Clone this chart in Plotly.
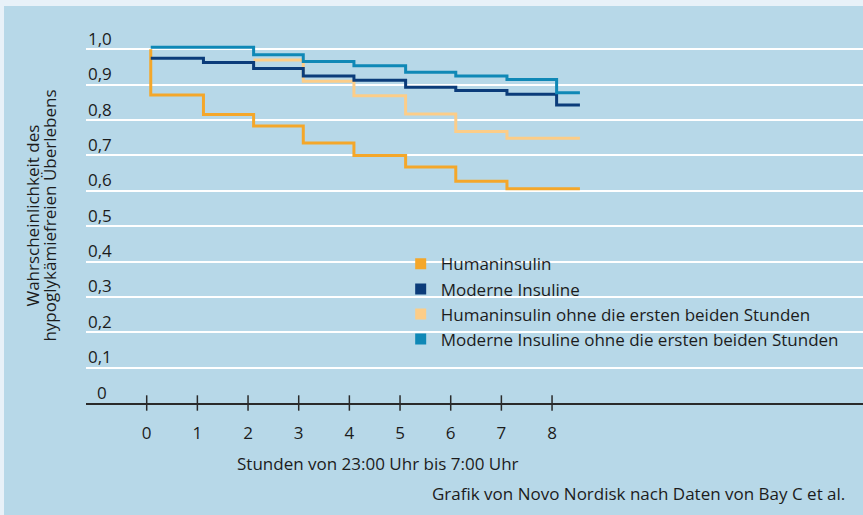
import plotly.graph_objects as go

# ---------------- data ----------------
x_ticks = [0, 1, 2, 3, 4, 5, 6, 7, 8]
x_tick_labels = ["0", "1", "2", "3", "4", "5", "6", "7", "8"]
y_ticks = [0.1, 0.2, 0.3, 0.4, 0.5, 0.6, 0.7, 0.8, 0.9, 1.0]
y_tick_labels = ["0,1", "0,2", "0,3", "0,4", "0,5", "0,6", "0,7", "0,8", "0,9", "1,0"]

human_t = [0.08, 0.08, 1.12, 2.11, 3.09, 4.09, 5.11, 6.10, 7.11, 8.55]
human_s = [1.0, 0.871, 0.816, 0.783, 0.735, 0.700, 0.667, 0.627, 0.606, 0.606]

modern_t = [0.08, 1.12, 2.11, 3.09, 4.09, 5.11, 6.10, 7.11, 8.09, 8.55]
modern_s = [0.975, 0.963, 0.946, 0.925, 0.913, 0.893, 0.884, 0.873, 0.843, 0.843]

human2_t = [2.11, 3.09, 4.09, 5.11, 6.10, 7.11, 8.55]
human2_s = [0.970, 0.910, 0.869, 0.817, 0.768, 0.749, 0.749]

modern2_t = [0.08, 2.11, 3.09, 4.09, 5.11, 6.10, 7.11, 8.09, 8.55]
modern2_s = [1.006, 0.985, 0.966, 0.954, 0.935, 0.925, 0.915, 0.877, 0.877]

series_names = [
    "Humaninsulin",
    "Moderne Insuline",
    "Humaninsulin ohne die ersten beiden Stunden",
    "Moderne Insuline ohne die ersten beiden Stunden",
]
colors = ["#f4a72a", "#0b3c7a", "#fccd88", "#0f88b6"]

x_title = "Stunden von 23:00 Uhr bis 7:00 Uhr"
y_title_lines = ["Wahrscheinlichkeit des", "hypoglykämiefreien Überlebens"]
credit = "Grafik von Novo Nordisk nach Daten von Bay C et al."

# ---------------- figure ----------------
FONT = "Open Sans"
TXT = "#1c1c1c"
BG = "#b7d8e8"
LIGHT = "#e8f1f8"

fig = go.Figure()

series = [
    (human2_t, human2_s, 2),
    (human_t, human_s, 0),
    (modern_t, modern_s, 1),
    (modern2_t, modern2_s, 3),
]
for t, s, i in series:
    fig.add_trace(go.Scatter(
        x=t, y=s, mode="lines", line=dict(shape="hv", color=colors[i], width=3),
        showlegend=False, hoverinfo="skip",
    ))

# legend entries (square markers)
for i, name in enumerate(series_names):
    fig.add_trace(go.Scatter(
        x=[None], y=[None], mode="markers", name=name,
        marker=dict(symbol="square", size=11, color=colors[i]),
    ))

# crossing tick marks on the x axis
fig.add_trace(go.Scatter(
    x=x_ticks, y=[0] * len(x_ticks), mode="markers",
    marker=dict(symbol="line-ns", size=11, line=dict(color="#2a2a2a", width=1.5)),
    cliponaxis=False, showlegend=False, hoverinfo="skip",
))

fig.update_layout(
    width=863, height=515,
    margin=dict(l=86, r=0, t=14, b=112),
    paper_bgcolor=BG, plot_bgcolor=BG,
    font=dict(family=FONT, size=17, color=TXT),
    showlegend=True,
    legend=dict(
        x=0.405, y=0.403, xanchor="left", yanchor="top",
        bgcolor="rgba(0,0,0,0)", font=dict(size=17, color=TXT),
        tracegroupgap=0, itemwidth=30,
    ),
    xaxis=dict(
        range=[-1.198, 14.137], showgrid=False, zeroline=False,
        showline=True, linecolor="#2a2a2a", linewidth=1.5,
        tickvals=x_ticks, ticktext=x_tick_labels, ticks="",
        ticklabelstandoff=14, tickfont=dict(size=17, color=TXT),
        fixedrange=True,
    ),
    yaxis=dict(
        range=[0, 1.1], tickvals=y_ticks, showticklabels=False,
        showgrid=True, gridcolor="#ffffff", gridwidth=1.5,
        zeroline=False, showline=False, ticks="", fixedrange=True,
    ),
)

# y tick labels sitting above the gridlines
for v, lab in zip(y_ticks, y_tick_labels):
    fig.add_annotation(x=0, xref="paper", xshift=14, y=v, yref="y", text=lab,
                       showarrow=False, xanchor="center", yanchor="middle", yshift=11,
                       font=dict(size=17, color=TXT))
fig.add_annotation(x=0, xref="paper", xshift=16, y=0, yref="y", text="0",
                   showarrow=False, xanchor="center", yanchor="middle", yshift=11,
                   font=dict(size=17, color=TXT))

# y axis title (two rotated lines)
fig.add_annotation(x=0, xref="paper", xshift=-53, y=0.53, yref="y", text=y_title_lines[0],
                   textangle=-90, showarrow=False, xanchor="center", yanchor="middle",
                   font=dict(size=17, color=TXT))
fig.add_annotation(x=0, xref="paper", xshift=-36, y=0.53, yref="y", text=y_title_lines[1],
                   textangle=-90, showarrow=False, xanchor="center", yanchor="middle",
                   font=dict(size=17, color=TXT))

# x axis title
fig.add_annotation(x=0.3758, xref="paper", y=0, yref="paper", yshift=-60, text=x_title,
                   showarrow=False, xanchor="center", yanchor="middle",
                   font=dict(size=17, color=TXT))

# credit
fig.add_annotation(x=1, xref="paper", xshift=-16, y=0, yref="paper", yshift=-90, text=credit,
                   showarrow=False, xanchor="right", yanchor="middle",
                   font=dict(size=17, color=TXT))

# light frame bands (top and left)
fig.add_shape(type="rect", xref="paper", yref="paper", x0=-0.2, x1=1.2, y0=1.0206, y1=1.1,
              fillcolor=LIGHT, line_width=0, layer="above")
fig.add_shape(type="rect", xref="paper", yref="paper", x0=-0.2, x1=-0.1055, y0=-0.4, y1=1.1,
              fillcolor=LIGHT, line_width=0, layer="above")

fig.write_html(
    "out.html",
    config={"displayModeBar": False},
    post_script="document.body.style.margin='0';document.body.style.overflow='hidden';",
)
